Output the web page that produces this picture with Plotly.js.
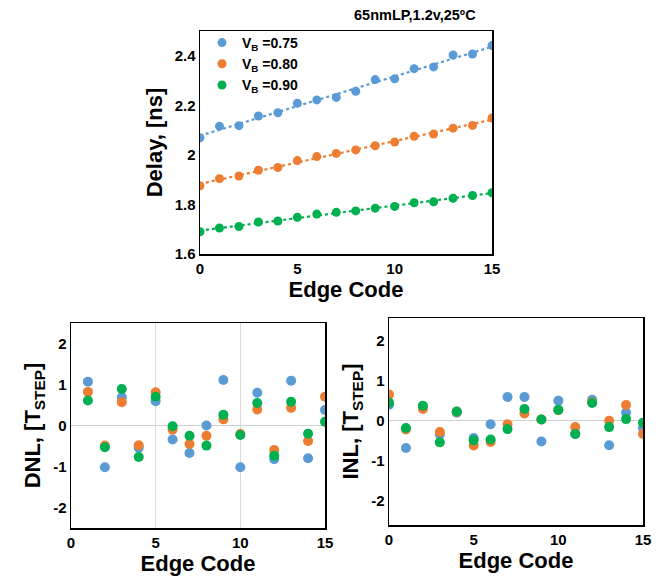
<!DOCTYPE html>
<html><head><meta charset="utf-8">
<script src="https://cdn.plot.ly/plotly-3.0.1.min.js"></script>
<style>html,body{margin:0;padding:0;background:#fff}#plot{width:667px;height:578px}</style>
</head><body><div id="plot"></div>
<script>
// ---- data ----
const edgeCodes = [0,1,2,3,4,5,6,7,8,9,10,11,12,13,14,15];
const dnlCodes = [1,2,3,4,5,6,7,8,9,10,11,12,13,14,15];
const seriesNames = ['V<sub>B</sub> =0.75','V<sub>B</sub> =0.80','V<sub>B</sub> =0.90'];
const seriesColors = ['#5b9bd5','#ed7d31','#00b050'];

const delay075 = [2.069,2.116,2.118,2.157,2.170,2.208,2.222,2.232,2.257,2.304,2.307,2.348,2.355,2.403,2.407,2.441];
const delay080 = [1.875,1.904,1.915,1.938,1.949,1.977,1.993,2.006,2.020,2.037,2.052,2.075,2.084,2.108,2.119,2.149];
const delay090 = [1.690,1.705,1.711,1.729,1.733,1.748,1.761,1.768,1.774,1.785,1.792,1.807,1.811,1.825,1.836,1.847];

const dnl075 = [1.07,-1.02,0.69,-0.54,0.59,-0.34,-0.67,0.00,1.11,-1.02,0.80,-0.82,1.09,-0.80,0.38];
const dnl080 = [0.82,-0.49,0.57,-0.48,0.81,-0.10,-0.45,-0.25,0.15,-0.21,0.39,-0.60,0.43,-0.38,0.70];
const dnl090 = [0.61,-0.53,0.89,-0.77,0.70,-0.02,-0.25,-0.49,0.26,-0.23,0.55,-0.74,0.58,-0.20,0.09];

const inl075 = [0.40,-0.68,0.35,-0.34,0.20,-0.43,-0.09,0.59,0.59,-0.52,0.50,-0.33,0.52,-0.61,0.20,-0.18];
const inl080 = [0.65,-0.22,0.29,-0.28,0.22,-0.62,-0.53,-0.09,0.18,0.03,0.26,-0.16,0.46,0.00,0.39,-0.33];
const inl090 = [0.45,-0.18,0.37,-0.54,0.23,-0.49,-0.47,-0.21,0.29,0.03,0.27,-0.33,0.44,-0.16,0.04,-0.05];

const delayTickVals = [1.6,1.8,2,2.2,2.4];
const delayTickText = ['1.6','1.8','2','2.2','2.4'];
const nlTickVals = [-2,-1,0,1,2];
const nlTickText = ['-2','-1','0','1','2'];
const codeTickVals = [0,5,10,15];
const codeTickText = ['0','5','10','15'];
const chartTitle = '65nmLP,1.2v,25ºC';

// ---- build ----
const W = 667, H = 578;
const FONT = 'Liberation Sans, Arial, sans-serif';
function fit(x, y){
  const n=x.length; let sx=0,sy=0,sxx=0,sxy=0;
  for(let i=0;i<n;i++){sx+=x[i];sy+=y[i];sxx+=x[i]*x[i];sxy+=x[i]*y[i];}
  const b=(n*sxy-sx*sy)/(n*sxx-sx*sx); const a=(sy-b*sx)/n;
  return x.map(v=>a+b*v);
}
const delays=[delay075,delay080,delay090];
const dnls=[dnl075,dnl080,dnl090];
const inls=[inl075,inl080,inl090];
const traces=[];
delays.forEach((d,i)=>{
  traces.push({x:edgeCodes,y:fit(edgeCodes,d),mode:'lines',line:{color:seriesColors[i],dash:'dot',width:2.2},showlegend:false,hoverinfo:'skip',xaxis:'x',yaxis:'y'});
});
delays.forEach((d,i)=>{
  traces.push({x:edgeCodes,y:d,mode:'markers',name:seriesNames[i],marker:{color:seriesColors[i],size:9},xaxis:'x',yaxis:'y'});
});
dnls.forEach((d,i)=>{
  traces.push({x:dnlCodes,y:d,mode:'markers',showlegend:false,marker:{color:seriesColors[i],size:10},xaxis:'x2',yaxis:'y2'});
});
inls.forEach((d,i)=>{
  traces.push({x:edgeCodes,y:d,mode:'markers',showlegend:false,marker:{color:seriesColors[i],size:10},xaxis:'x3',yaxis:'y3'});
});

const tickFont={family:FONT,size:15,color:'#000',weight:700};
const titleFont={family:FONT,size:22,color:'#000',weight:700};
function xa(dom,anchor,grid){
  return {domain:dom,anchor:anchor,range:[0,15],tickvals:codeTickVals,ticktext:codeTickText,tickfont:tickFont,
    showline:true,mirror:true,linecolor:'#000',linewidth:1.5,ticks:'',showgrid:!!grid,gridcolor:'#d9d9d9',gridwidth:1.2,zeroline:false,
    title:{text:'Edge Code',font:titleFont,standoff:6}};
}
function ya(dom,anchor,range,tv,tt,title,zl){
  return {domain:dom,anchor:anchor,range:range,tickvals:tv,ticktext:tt,tickfont:tickFont,
    showline:true,mirror:true,linecolor:'#000',linewidth:1.5,ticks:'',showgrid:false,
    zeroline:!!zl,zerolinecolor:'#d0d0d0',zerolinewidth:1.5,
    title:{text:title,font:titleFont,standoff:6}};
}
const layout={
  width:W,height:H,margin:{l:0,r:0,t:0,b:0},paper_bgcolor:'#fff',plot_bgcolor:'#fff',
  font:{family:FONT,color:'#000'},
  showlegend:true,
  legend:{x:202/W,y:1-27/H,xanchor:'left',yanchor:'top',bgcolor:'rgba(0,0,0,0)',font:{family:FONT,size:14,color:'#000',weight:700},tracegroupgap:0,itemwidth:30},
  xaxis:xa([200/W,492/W],'y',false),
  yaxis:ya([1-254/H,1-31/H],'x',[1.6,2.5],delayTickVals,delayTickText,'Delay, [ns]',false),
  xaxis2:xa([71/W,325/W],'y2',true),
  yaxis2:ya([1-528/H,1-323/H],'x2',[-2.5,2.5],nlTickVals,nlTickText,'DNL, [T<sub>STEP</sub>]',true),
  xaxis3:xa([389/W,643/W],'y3',false),
  yaxis3:ya([1-525/H,1-318/H],'x3',[-2.6,2.56],nlTickVals,nlTickText,'INL, [T<sub>STEP</sub>]',true),
  annotations:[{text:chartTitle,x:415/W,y:1-15/H,xref:'paper',yref:'paper',showarrow:false,xanchor:'center',yanchor:'middle',
    font:{family:FONT,size:14.5,color:'#000',weight:700}}]
};
Plotly.newPlot('plot',traces,layout,{displayModeBar:false,staticPlot:true});
</script></body></html>
